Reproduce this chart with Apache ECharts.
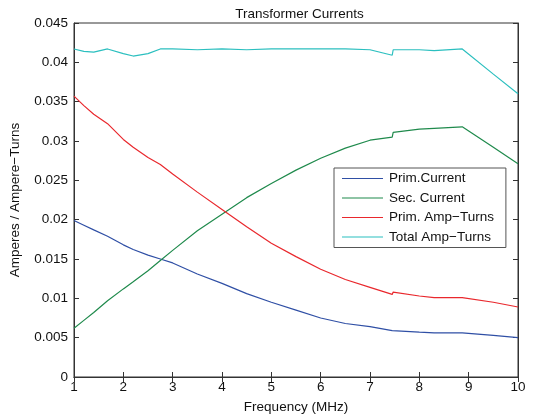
<!DOCTYPE html>
<html>
<head>
<meta charset="utf-8">
<script src="https://cdn.jsdelivr.net/npm/echarts@6/dist/echarts.min.js"></script>
<style>
html,body{margin:0;padding:0;background:#fff;}
#c{width:534px;height:419px;}
</style>
</head>
<body>
<div id="c"></div>
<script>
var freq        = [1, 1.2, 1.4, 1.68, 2, 2.2, 2.5, 2.75, 3, 3.5, 4, 4.5, 5, 5.5, 6, 6.5, 7, 7.45, 7.47, 8, 8.3, 8.87, 9.5, 10];
var primCurrent = [0.0199,0.0193,0.0187,0.0179,0.0168,0.0162,0.0155,0.0150,0.0145,0.0131,0.0119,0.0106,0.0095,0.0085,0.0075,0.0068,0.0064,0.0059,0.0059,0.0057,0.0056,0.0056,0.0053,0.0050];
var secCurrent  = [0.0062,0.0072,0.0082,0.0097,0.0112,0.0121,0.0135,0.0148,0.0161,0.0186,0.0207,0.0228,0.0246,0.0263,0.0278,0.0291,0.0301,0.0305,0.0311,0.0315,0.0316,0.0318,0.0292,0.0271];
var primAmp     = [0.0357,0.0345,0.0334,0.0322,0.0302,0.0292,0.0279,0.0270,0.0258,0.0235,0.0213,0.0191,0.0170,0.0153,0.0137,0.0124,0.0114,0.0105,0.0108,0.0103,0.0101,0.0101,0.0095,0.0089];
var totalAmp    = [0.0417,0.0414,0.0413,0.0417,0.0411,0.0408,0.0411,0.0417,0.0417,0.0416,0.0417,0.0416,0.0417,0.0417,0.0417,0.0417,0.0416,0.0409,0.0416,0.0416,0.0415,0.0417,0.0385,0.0360];
var seriesNames = ['Prim.Current', 'Sec. Current', 'Prim. Amp\u2212Turns', 'Total Amp\u2212Turns'];
var colors = ['#2f4fa5', '#1f8a4c', '#e9282d', '#2bbfbf'];

function pairs(ys){ return freq.map(function(x,i){ return [x, ys[i]]; }); }
var allData = [primCurrent, secCurrent, primAmp, totalAmp];

var font = 'Liberation Sans, Arial, sans-serif';
var fs = 13.5;
var axisCol = '#333';
var chart = echarts.init(document.getElementById('c'), null, {renderer:'canvas'});
chart.setOption({
  animation:false,
  backgroundColor:'#fff',
  title:{text:'Transformer Currents', left:294.5, textAlign:'center', top:2,
    textStyle:{fontFamily:font, fontSize:fs, fontWeight:'normal', color:'#111'}},
  grid:{left:71, right:16, top:23, bottom:41, show:true, borderColor:axisCol, borderWidth:1, backgroundColor:'#fff'},
  legend:{
    orient:'vertical', left:334, top:168,
    data:seriesNames, icon:'rect', itemWidth:41, itemHeight:1.2, itemGap:4.5,
    padding:[3,12,3,8], borderColor:'#555', borderWidth:1, backgroundColor:'#fff',
    textStyle:{fontFamily:font, fontSize:fs, color:'#111', lineHeight:15, padding:[0,0,0,1]}
  },
  xAxis:[{
    type:'value', min:1, max:10, interval:1,
    name:'Frequency (MHz)', nameLocation:'middle', nameGap:23,
    nameTextStyle:{fontFamily:font, fontSize:fs, color:'#111'},
    axisLine:{show:true, lineStyle:{color:axisCol}},
    axisTick:{show:true, inside:true, length:5, lineStyle:{color:axisCol}},
    axisLabel:{fontFamily:font, fontSize:fs, color:'#111', margin:3},
    splitLine:{show:false}
  },{
    type:'value', min:1, max:10, interval:1, position:'top',
    axisLine:{show:true, lineStyle:{color:axisCol}},
    axisTick:{show:true, inside:true, length:5, lineStyle:{color:axisCol}},
    axisLabel:{show:false}, splitLine:{show:false}
  }],
  yAxis:[{
    type:'value', min:0, max:0.045, interval:0.005,
    name:'Amperes / Ampere\u2212Turns', nameLocation:'middle', nameGap:52,
    nameTextStyle:{fontFamily:font, fontSize:fs, color:'#111'},
    axisLine:{show:true, lineStyle:{color:axisCol}},
    axisTick:{show:true, inside:true, length:5, lineStyle:{color:axisCol}},
    axisLabel:{fontFamily:font, fontSize:fs, color:'#111', margin:6,
      formatter:function(v){ return String(+v.toFixed(3)); }},
    splitLine:{show:false}
  },{
    type:'value', min:0, max:0.045, interval:0.005, position:'right',
    axisLine:{show:true, lineStyle:{color:axisCol}},
    axisTick:{show:true, inside:true, length:5, lineStyle:{color:axisCol}},
    axisLabel:{show:false}, splitLine:{show:false}
  }],
  series: seriesNames.map(function(n,i){
    return {name:n, type:'line', data:pairs(allData[i]), showSymbol:false, symbol:'none',
      smooth:false, lineStyle:{width:1.2, color:colors[i]}, itemStyle:{color:colors[i]}};
  })
});
</script>
</body>
</html>
